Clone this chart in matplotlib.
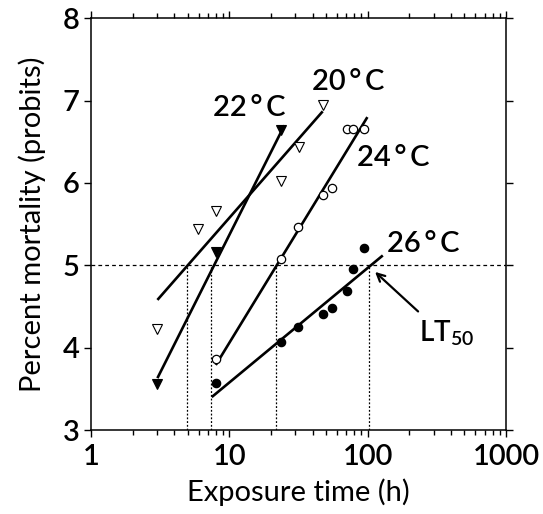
import matplotlib
matplotlib.use("Agg")
import matplotlib.pyplot as plt
from matplotlib.ticker import LogLocator, NullFormatter, FixedLocator

plt.rcParams['font.family'] = ['Lato', 'DejaVu Sans']
plt.rcParams['font.weight'] = 'semibold'

# Data
x20 = [3.02, 5.91, 7.98, 23.6, 31.9, 47.3]
y20 = [4.23, 5.44, 5.66, 6.02, 6.44, 6.95]
fit20_x = [3.02, 47.3]
fit20_y = [4.58, 6.87]

x22 = [3.02, 7.98, 23.6]
y22 = [3.56, 5.16, 6.64]
fit22_x = [3.02, 25.0]
fit22_y = [3.63, 6.70]

x24 = [7.98, 23.6, 31.5, 47.3, 55.6, 70.6, 78.8, 94.2]
y24 = [3.86, 5.08, 5.46, 5.85, 5.94, 6.66, 6.66, 6.66]
fit24_x = [7.98, 99.5]
fit24_y = [3.79, 6.80]

x26 = [7.98, 23.6, 31.5, 47.3, 55.6, 70.6, 78.8, 94.2]
y26 = [3.57, 4.07, 4.25, 4.41, 4.48, 4.69, 4.95, 5.21]
fit26_x = [7.46, 128.6]
fit26_y = [3.40, 5.12]

lt50 = [4.92, 7.38, 21.6, 102.4]
xticks = [1, 10, 100, 1000]
yticks = [3, 4, 5, 6, 7, 8]

fig = plt.figure(figsize=(5.43, 5.14), dpi=100)
ax = fig.add_axes([0.1676, 0.1634, 0.7643, 0.8010])
ax.set_xscale('log')
ax.set_xlim(1, 1000)
ax.set_ylim(3, 8)

lw = 1.9
# reference lines
ax.axhline(5, color='black', lw=0.9, ls=(0, (3, 2.5)), zorder=1)
for v in lt50:
    ax.plot([v, v], [3, 5], color='black', lw=0.9, ls=(0, (1.5, 1.5)), zorder=1)

ax.plot(fit20_x, fit20_y, color='black', lw=lw, solid_capstyle='butt', zorder=2)
ax.plot(fit22_x, fit22_y, color='black', lw=lw, solid_capstyle='butt', zorder=2)
ax.plot(fit24_x, fit24_y, color='black', lw=lw, solid_capstyle='butt', zorder=2)
ax.plot(fit26_x, fit26_y, color='black', lw=lw, solid_capstyle='butt', zorder=2)

ax.plot(x20, y20, 'v', ms=7, mfc='white', mec='black', mew=0.8, ls='none', zorder=3)
ax.plot(x22, y22, 'v', ms=7.5, mfc='black', mec='black', mew=0.8, ls='none', zorder=3)
ax.plot(x24, y24, 'o', ms=6, mfc='white', mec='black', mew=0.9, ls='none', zorder=3)
ax.plot(x26, y26, 'o', ms=6, mfc='black', mec='black', mew=0.9, ls='none', zorder=3)

fs = 21
ax.text(72.1, 7.23, '20\u2009°\u2009C', fontsize=fs, ha='center', va='center')
ax.text(13.9, 6.91, '22\u2009°\u2009C', fontsize=fs, ha='center', va='center')
ax.text(152.7, 6.30, '24\u2009°\u2009C', fontsize=fs, ha='center', va='center')
ax.text(251.6, 5.26, '26\u2009°\u2009C', fontsize=fs, ha='center', va='center')
ax.text(236, 4.18, r'LT$_{\mathregular{50}}$', fontsize=fs - 1, ha='left', va='center')
ax.annotate('', xy=(113.1, 4.92), xytext=(231.4, 4.44),
            arrowprops=dict(arrowstyle='->', lw=1.6, color='black',
                            mutation_scale=14, shrinkA=0, shrinkB=0))

ax.xaxis.set_major_locator(FixedLocator(xticks))
ax.xaxis.set_minor_locator(LogLocator(base=10, subs=range(2, 10)))
ax.xaxis.set_minor_formatter(NullFormatter())
ax.set_xticklabels([str(t) for t in xticks])
ax.set_yticks(yticks)
ax.set_yticklabels([str(t) for t in yticks])

ax.tick_params(which='both', direction='out', top=True, right=True,
               labelsize=fs, width=1.0, pad=3)
ax.tick_params(which='major', length=5)
ax.tick_params(which='minor', length=3.5)
ax.tick_params(axis='x', which='major', pad=5)
for s in ax.spines.values():
    s.set_linewidth(1.1)

ax.set_xlabel('Exposure time (h)', fontsize=fs, labelpad=6)
ax.set_ylabel('Percent mortality (probits)', fontsize=fs, labelpad=12)

fig.savefig('out.png', dpi=100)
